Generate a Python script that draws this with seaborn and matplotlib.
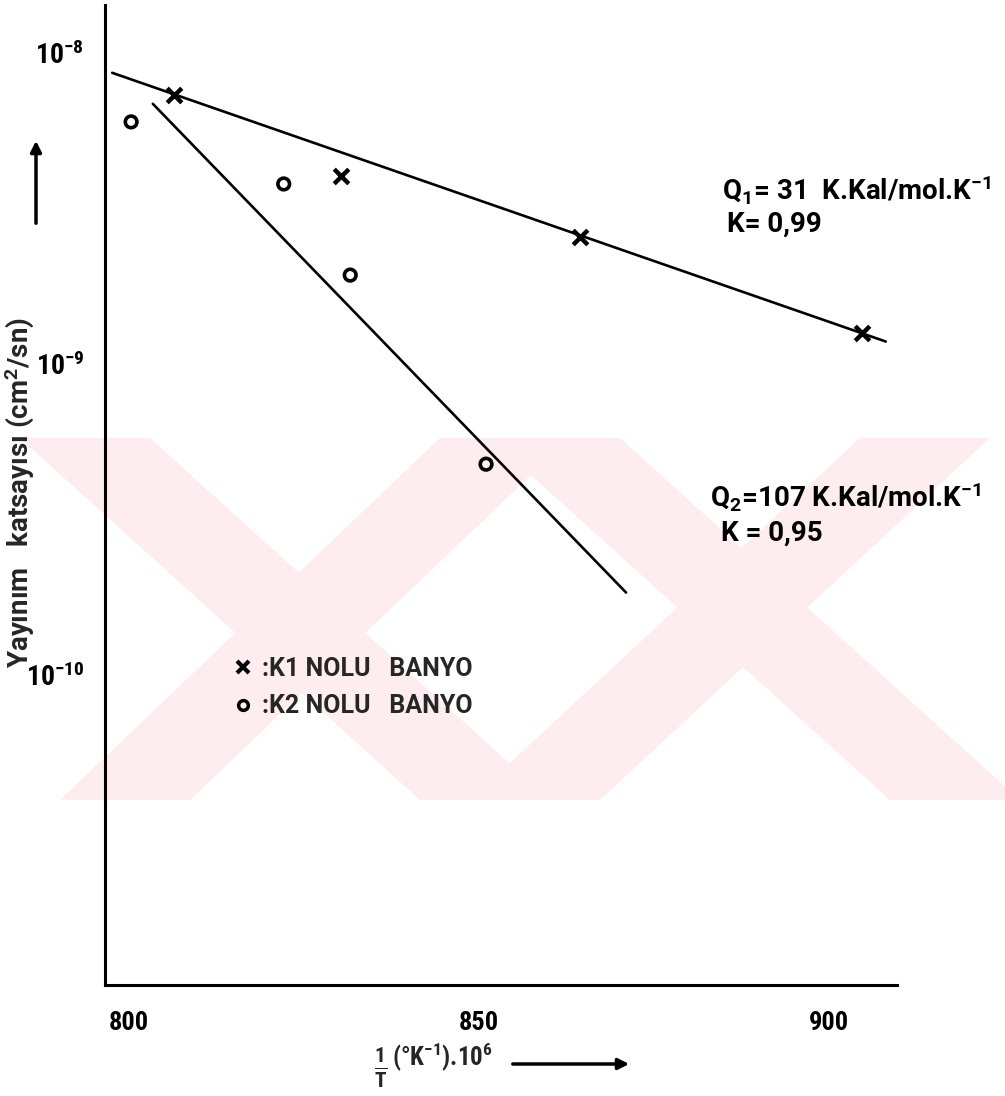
import numpy as np
import pandas as pd
import matplotlib
matplotlib.use("Agg")
import matplotlib.pyplot as plt
from matplotlib import font_manager as fm
from matplotlib.patches import Polygon, Rectangle, FancyArrowPatch
from matplotlib.lines import Line2D
import seaborn as sns

# ---- data -------------------------------------------------------------
# 1/T (K^-1 * 10^6) and diffusion coefficient (cm^2/s)
k1_x = [806.4, 830.3, 864.4, 904.7]
k1_d = [7.33e-9, 4.02e-9, 2.56e-9, 1.26e-9]
k2_x = [800.3, 822.1, 831.6, 851.0]
k2_d = [6.0e-9, 3.79e-9, 1.93e-9, 4.76e-10]

# fitted Arrhenius lines (end points)
fit1_x = [797.6, 908.1]
fit1_d = [8.63e-9, 1.18e-9]
fit2_x = [803.4, 871.0]
fit2_d = [6.86e-9, 1.84e-10]

x_ticks = [800, 850, 900]
x_tick_labels = ["800", "850", "900"]
y_ticks = [1e-8, 1e-9, 1e-10]
y_tick_labels = [r"$10^{-8}$", r"$10^{-9}$", r"$10^{-10}$"]

series_labels = [":K1 NOLU   BANYO", ":K2 NOLU   BANYO"]
q1_text = r"Q$_1$= 31  K.Kal/mol.K$^{-1}$"
k1_text = "K= 0,99"
q2_text = r"Q$_2$=107 K.Kal/mol.K$^{-1}$"
k2_text = "K = 0,95"

# ---- style ------------------------------------------------------------
sns.set_theme(style="white")
available = {f.name for f in fm.fontManager.ttflist}
narrow = "DejaVu Sans"
for cand in ["Liberation Sans Narrow", "Roboto Condensed", "Open Sans Condensed", "Roboto"]:
    if cand in available:
        narrow = cand
        break
wide = "Roboto" if "Roboto" in available else "DejaVu Sans"
plt.rcParams["font.family"] = [narrow, "DejaVu Sans"]
plt.rcParams["font.weight"] = "bold"
plt.rcParams["mathtext.default"] = "regular"
WIDE = [wide, "DejaVu Sans"]

W, H = 1005, 1096
fig = plt.figure(figsize=(W / 100, H / 100), dpi=100)
fig.patch.set_facecolor("white")


def fx(px):
    return px / W


def fy(py):
    return 1 - py / H


# faint background emblem (two interlaced X shapes)
pink = "#fdedf0"
band_top, band_bot = 438, 800
bands = [
    # (x-left at top, x-right at top, x-left at bottom, x-right at bottom)
    (20, 150, 420, 550),
    (440, 570, 60, 190),
    (490, 620, 890, 1020),
    (860, 990, 470, 600),
]
clip = Rectangle((fx(15), fy(band_bot)), fx(1005) - fx(15), fy(band_top) - fy(band_bot),
                 transform=fig.transFigure, facecolor="none", edgecolor="none")
fig.add_artist(clip)
for a, b, c, d in bands:
    poly = Polygon([(fx(a), fy(band_top)), (fx(b), fy(band_top)),
                    (fx(d), fy(band_bot)), (fx(c), fy(band_bot))],
                   closed=True, transform=fig.transFigure,
                   facecolor=pink, edgecolor="none", zorder=0)
    poly.set_clip_path(clip)
    fig.add_artist(poly)

ax = fig.add_axes([fx(105), fy(985), (897 - 105) / W, (985 - 5) / H])
ax.patch.set_alpha(0)

df1 = pd.DataFrame({"x": k1_x, "d": k1_d})
df2 = pd.DataFrame({"x": k2_x, "d": k2_d})
dfit1 = pd.DataFrame({"x": fit1_x, "d": fit1_d})
dfit2 = pd.DataFrame({"x": fit2_x, "d": fit2_d})

sns.lineplot(data=dfit1, x="x", y="d", color="black", lw=1.9, ax=ax)
sns.lineplot(data=dfit2, x="x", y="d", color="black", lw=1.9, ax=ax)
sns.scatterplot(data=df1, x="x", y="d", marker="x", s=110, color="black",
                linewidth=3.2, ax=ax, zorder=5)
sns.scatterplot(data=df2, x="x", y="d", marker="o", s=70, facecolor="none",
                edgecolor="black", linewidth=2.6, ax=ax, zorder=5)

ax.set_yscale("log")
ax.set_xlim(796.57, 909.7)
ax.set_ylim(10 ** -10.997, 10 ** -7.846)
ax.set_xticks(x_ticks)
ax.set_xticklabels(x_tick_labels)
ax.set_yticks(y_ticks)
ax.set_yticklabels(y_tick_labels)
ax.yaxis.set_minor_locator(matplotlib.ticker.NullLocator())
ax.tick_params(axis="both", direction="inout", length=6, width=2.5, colors="black")
ax.tick_params(axis="x", labelsize=19, pad=16)
ax.tick_params(axis="y", labelsize=20, pad=12)
for lab in ax.get_xticklabels() + ax.get_yticklabels():
    lab.set_fontweight("bold")
ax.set_xlabel("")
ax.set_ylabel("")
for side in ["top", "right"]:
    ax.spines[side].set_visible(False)
for side in ["left", "bottom"]:
    ax.spines[side].set_color("black")
    ax.spines[side].set_linewidth(2.2)

# fit annotations
txt = dict(fontsize=20, fontweight="bold", color="black", ha="left", va="center",
           family=WIDE)
fig.text(fx(722), fy(190), q1_text, **txt)
fig.text(fx(727), fy(224), k1_text, **txt)
fig.text(fx(710), fy(497), q2_text, **txt)
fig.text(fx(721), fy(533), k2_text, **txt)

# legend
handles = [
    Line2D([], [], marker="x", ls="none", color="black", markersize=8, mew=3),
    Line2D([], [], marker="o", ls="none", markerfacecolor="none",
           markeredgecolor="black", markersize=7, mew=2.5),
]
leg = fig.legend(handles, series_labels, loc="upper left",
                 bbox_to_anchor=(fx(210), fy(634)), frameon=False,
                 handlelength=0.8, handletextpad=0.4, labelspacing=0.55,
                 prop={"size": 18, "weight": "bold", "family": WIDE})

# axis titles with arrows
fig.text(fx(19), fy(493), "Yayınım   katsayısı (cm$^2$/sn)", rotation=90,
         fontsize=20, fontweight="bold", ha="center", va="center", family=WIDE)
fig.add_artist(FancyArrowPatch(
    (fx(36), fy(226)), (fx(36), fy(138)), transform=fig.transFigure,
    arrowstyle="-|>", mutation_scale=16, lw=2.5, color="black"))

fig.text(fx(381), fy(1068), r"$\frac{1}{T}$", fontsize=22, fontweight="bold",
         ha="center", va="center")
fig.text(fx(392), fy(1057), r"(°K$^{-1}$).10$^6$", fontsize=18, fontweight="bold",
         ha="left", va="center")
fig.add_artist(FancyArrowPatch(
    (fx(510), fy(1064)), (fx(632), fy(1064)), transform=fig.transFigure,
    arrowstyle="-|>", mutation_scale=16, lw=2.5, color="black"))

fig.savefig("out.png", dpi=100, facecolor="white")
